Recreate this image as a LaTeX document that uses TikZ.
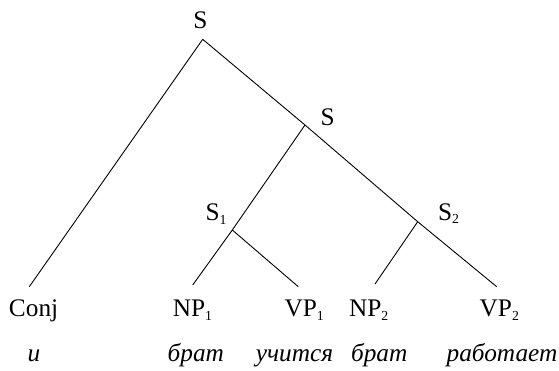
\documentclass[tikz,border=0pt]{standalone}
\usepackage{fontspec}
\setmainfont{Liberation Serif}
\newcommand{\sbs}[1]{\raisebox{-3.5pt}{\fontsize{13.8}{14}\selectfont #1}}
\tikzset{
  lbl/.style={inner sep=0pt, outer sep=0pt, font=\fontsize{25.3}{28}\selectfont},
  word/.style={lbl, font=\fontsize{25.3}{28}\selectfont\itshape, anchor=base},
  edge/.style={line width=0.9pt, black},
}
\begin{document}
\begin{tikzpicture}[x=1pt,y=-1pt]
\useasboundingbox (0,0) rectangle (559,370);
% labels
\node[lbl, anchor=base] (S0) at (200.5,28) {S};
\node[lbl, anchor=base west] (Sm) at (320.5,125) {S};
\node[lbl, anchor=base west] (S1) at (205.5,220.7) {S\sbs{1}};
\node[lbl, anchor=base west] (S2) at (438,220) {S\sbs{2}};
\node[lbl, anchor=base west] (conj) at (9,316.7) {Conj};
\node[lbl, anchor=base west] (np1) at (172.9,316.7) {NP\sbs{1}};
\node[lbl, anchor=base west] (vp1) at (284.6,316.7) {VP\sbs{1}};
\node[lbl, anchor=base west] (np2) at (349,316.7) {NP\sbs{2}};
\node[lbl, anchor=base west] (vp2) at (479.7,316.7) {VP\sbs{2}};
% words
\node[word] (w1) at (34,361) {и};
\node[word] (w2) at (195.8,361) {брат};
\node[word] (w3) at (294.5,361) {учится};
\node[word] (w4) at (379.2,361) {брат};
\node[word] (w5) at (502,361) {работает};
% junctions and line ends
\coordinate (jS0) at (202.7,39.3);
\coordinate (jSm) at (305,125);
\coordinate (jS1) at (232.3,230);
\coordinate (jS2) at (417.7,221.7);
\coordinate (eConj) at (29.3,286.7);
\coordinate (eNP1) at (192.7,285);
\coordinate (eVP1) at (298.3,286.7);
\coordinate (eNP2) at (375,284);
\coordinate (eVP2) at (496.7,286.7);
% edges
\draw[edge] (jS0) -- (eConj);
\draw[edge] (jS0) -- (jSm) -- (jS2) -- (eVP2);
\draw[edge] (jSm) -- (jS1) -- (eNP1);
\draw[edge] (jS1) -- (eVP1);
\draw[edge] (jS2) -- (eNP2);
\end{tikzpicture}
\end{document}
